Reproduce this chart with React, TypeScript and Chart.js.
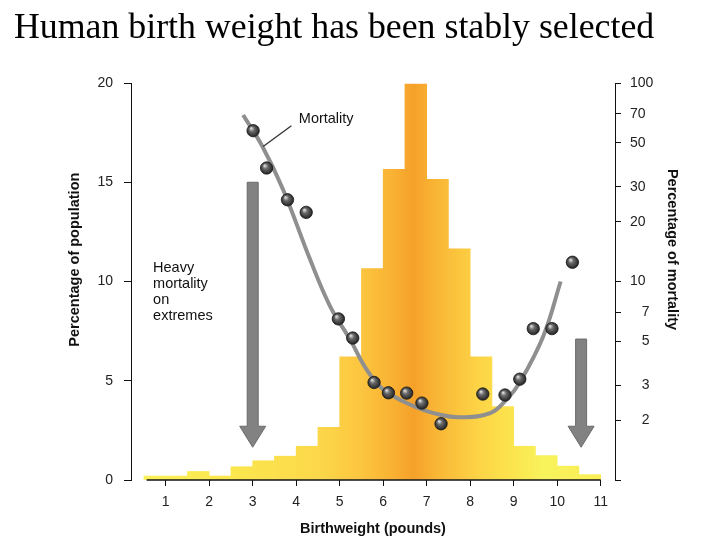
import React, { useEffect, useRef } from 'react';
import { Chart, registerables } from 'chart.js';

Chart.register(...registerables);

const TITLE = 'Human birth weight has been stably selected';
const X_TITLE = 'Birthweight (pounds)';
const Y_TITLE = 'Percentage of population';
const Y2_TITLE = 'Percentage of mortality';

// Histogram: half-pound bins (centres) and percentage of population
const binCenters = [0.75, 1.25, 1.75, 2.25, 2.75, 3.25, 3.75, 4.25, 4.75, 5.25, 5.75, 6.25, 6.75, 7.25, 7.75, 8.25, 8.75, 9.25, 9.75, 10.25, 10.75];
const populationPct = [0.2, 0.2, 0.43, 0.2, 0.67, 0.97, 1.2, 1.7, 2.65, 6.2, 10.65, 15.65, 19.95, 15.15, 11.65, 6.2, 3.7, 1.7, 1.23, 0.7, 0.27];

// Observed mortality (dots)
const mortalityX = [3.01, 3.32, 3.8, 4.23, 4.97, 5.3, 5.79, 6.12, 6.54, 6.89, 7.33, 8.29, 8.8, 9.14, 9.45, 9.88, 10.35];
const mortalityPct = [57.5, 37.3, 25.8, 22.3, 6.48, 5.19, 3.1, 2.75, 2.74, 2.44, 1.92, 2.71, 2.68, 3.22, 5.79, 5.79, 12.5];

// Fitted mortality curve
const curveX = [2.78, 3.23, 3.7, 4.32, 4.78, 5.24, 5.62, 6.0, 6.69, 7.31, 7.77, 8.46, 8.84, 9.14, 9.68, 10.08];
const curvePct = [69, 47.6, 29, 12.9, 7.5, 5.1, 3.6, 2.86, 2.36, 2.13, 2.07, 2.17, 2.55, 3.1, 5.3, 10.0];

// Axis ticks
const xTicks = [1, 2, 3, 4, 5, 6, 7, 8, 9, 10, 11];
const popTicks = [0, 5, 10, 15, 20];
const mortTicks = [1, 2, 3, 5, 7, 10, 20, 30, 50, 70, 100];
const mortTickLabels = ['', '   2', '   3', '   5', '   7', '10', '20', '30', '50', '70', '100'];

// Arrows (x in pounds, top/tip in % of population)
const arrowX = [3.0, 10.55];
const arrowTop = [15, 7.1];
const arrowTip = [1.65, 1.65];

// Annotations
const noteLines = ['Heavy', 'mortality', 'on', 'extremes'];
const noteAnchor = { x: 0.71, y: 10.68 };
const mortLabel = 'Mortality';
const mortLabelAnchor = { x: 4.06, y: 66 };
const mortLeader = [{ x: 3.89, y: 60.9 }, { x: 3.24, y: 47.9 }];
const xLineSpan = [0.56, 11];
// axis-title centres (in axis values): left title at 11.1 % population, right title at 14.5 % mortality
const yTitleAt = 11.1;
const y2TitleAt = 14.5;

const SANS = '"Liberation Sans", Arial, Helvetica, sans-serif';
const SERIF = '"Liberation Serif", "Times New Roman", serif';

const gradStops: [number, string][] = [
  [0.5, '#faf05a'],
  [2.5, '#fbe74e'],
  [4.5, '#fcd84a'],
  [5.5, '#fcc53f'],
  [6.2, '#f9b233'],
  [6.7, '#f5a129'],
  [7.2, '#f9b535'],
  [8.2, '#fdd446'],
  [9.0, '#fbe54e'],
  [9.7, '#f8f35c'],
  [11, '#faee55'],
];

const decorPlugin = {
  id: 'decor',
  afterDatasetsDraw(chart: any) {
    const { ctx, chartArea } = chart;
    const x = chart.scales.x;
    const y = chart.scales.y;
    const y2 = chart.scales.y2;
    ctx.save();
    // x axis line
    ctx.strokeStyle = '#111';
    ctx.lineWidth = 1.6;
    ctx.beginPath();
    ctx.moveTo(x.getPixelForValue(xLineSpan[0]), chartArea.bottom);
    ctx.lineTo(x.getPixelForValue(xLineSpan[1]), chartArea.bottom);
    ctx.stroke();

    // arrows
    arrowX.forEach((ax, i) => {
      const cx = x.getPixelForValue(ax);
      const top = y.getPixelForValue(arrowTop[i]);
      const tip = y.getPixelForValue(arrowTip[i]);
      const headH = 21;
      const headW = 13;
      const shaftW = 5.5;
      ctx.beginPath();
      ctx.moveTo(cx - shaftW, top);
      ctx.lineTo(cx + shaftW, top);
      ctx.lineTo(cx + shaftW, tip - headH);
      ctx.lineTo(cx + headW, tip - headH);
      ctx.lineTo(cx, tip);
      ctx.lineTo(cx - headW, tip - headH);
      ctx.lineTo(cx - shaftW, tip - headH);
      ctx.closePath();
      ctx.fillStyle = '#828282';
      ctx.fill();
      ctx.strokeStyle = '#6b6b6b';
      ctx.lineWidth = 1;
      ctx.stroke();
    });

    // note text
    ctx.fillStyle = '#111';
    ctx.font = `14.5px ${SANS}`;
    ctx.textAlign = 'left';
    ctx.textBaseline = 'middle';
    const nx = x.getPixelForValue(noteAnchor.x);
    const ny = y.getPixelForValue(noteAnchor.y);
    noteLines.forEach((t, i) => ctx.fillText(t, nx, ny + i * 16));

    // mortality label
    ctx.fillText(mortLabel, x.getPixelForValue(mortLabelAnchor.x), y2.getPixelForValue(mortLabelAnchor.y));
    ctx.strokeStyle = '#333';
    ctx.lineWidth = 1.3;
    ctx.beginPath();
    ctx.moveTo(x.getPixelForValue(mortLeader[0].x), y2.getPixelForValue(mortLeader[0].y));
    ctx.lineTo(x.getPixelForValue(mortLeader[1].x), y2.getPixelForValue(mortLeader[1].y));
    ctx.stroke();

    // y axis titles
    ctx.font = `bold 14.5px ${SANS}`;
    ctx.textAlign = 'center';
    ctx.textBaseline = 'middle';
    ctx.fillStyle = '#111';
    ctx.save();
    ctx.translate(y.left + 11, y.getPixelForValue(yTitleAt));
    ctx.rotate(-Math.PI / 2);
    ctx.fillText(Y_TITLE, 0, 0);
    ctx.restore();
    ctx.save();
    ctx.translate(y2.right - 11, y2.getPixelForValue(y2TitleAt));
    ctx.rotate(Math.PI / 2);
    ctx.fillText(Y2_TITLE, 0, 0);
    ctx.restore();
    ctx.restore();
  },
  afterDraw(chart: any) {
    const { ctx } = chart;
    ctx.save();
    ctx.fillStyle = '#000';
    ctx.font = `35.8px ${SERIF}`;
    ctx.textAlign = 'left';
    ctx.textBaseline = 'alphabetic';
    ctx.fillText(TITLE, 14, 38);
    ctx.restore();
  },
};

export default function App() {
  const canvasRef = useRef<HTMLCanvasElement | null>(null);

  useEffect(() => {
    const canvas = canvasRef.current;
    if (!canvas) return;

    const barColor = (c: any) => {
      const chart = c.chart;
      const xs = chart.scales && chart.scales.x;
      if (!chart.chartArea || !xs) return '#fcc53f';
      const x0 = xs.getPixelForValue(gradStops[0][0]);
      const x1 = xs.getPixelForValue(gradStops[gradStops.length - 1][0]);
      const g = chart.ctx.createLinearGradient(x0, 0, x1, 0);
      const span = gradStops[gradStops.length - 1][0] - gradStops[0][0];
      gradStops.forEach(([v, col]) => g.addColorStop((v - gradStops[0][0]) / span, col));
      return g;
    };

    const dotColor = (c: any) => {
      const chart = c.chart;
      const raw = c.raw;
      const xs = chart.scales && chart.scales.x;
      const ys = chart.scales && chart.scales.y2;
      if (!raw || !xs || !ys || !chart.chartArea) return '#444';
      const px = xs.getPixelForValue(raw.x);
      const py = ys.getPixelForValue(raw.y);
      const g = chart.ctx.createRadialGradient(px - 2, py - 2.5, 0.5, px, py, 6.5);
      g.addColorStop(0, '#d8d8d8');
      g.addColorStop(0.35, '#6a6a6a');
      g.addColorStop(1, '#1e1e1e');
      return g;
    };

    const tickFont = { family: SANS, size: 14 };
    const titleFont = { family: SANS, size: 14.5, weight: 'bold' as const };

    const chart = new Chart(canvas, {
      type: 'bar',
      data: {
        datasets: [
          {
            type: 'scatter' as const,
            data: mortalityX.map((v, i) => ({ x: v, y: mortalityPct[i] })),
            xAxisID: 'x',
            yAxisID: 'y2',
            pointRadius: 6.2,
            pointBorderWidth: 0.8,
            pointBorderColor: '#1a1a1a',
            pointBackgroundColor: dotColor,
            order: 0,
          } as any,
          {
            type: 'line' as const,
            data: curveX.map((v, i) => ({ x: v, y: curvePct[i] })),
            xAxisID: 'x',
            yAxisID: 'y2',
            borderColor: '#8f8f8f',
            borderWidth: 4,
            pointRadius: 0,
            tension: 0.4,
            fill: false,
            order: 1,
          } as any,
          {
            type: 'bar' as const,
            data: binCenters.map((v, i) => ({ x: v, y: populationPct[i] })),
            xAxisID: 'x',
            yAxisID: 'y',
            backgroundColor: barColor,
            borderWidth: 0,
            barPercentage: 1,
            categoryPercentage: 1,
            order: 2,
          } as any,
        ],
      },
      options: {
        responsive: false,
        animation: false,
        events: [],
        layout: { padding: { left: 64, right: 37, top: 83, bottom: 0 } },
        plugins: {
          legend: { display: false },
          tooltip: { enabled: false },
          title: { display: false },
        },
        scales: {
          x: {
            type: 'linear',
            position: 'bottom',
            min: 0.2023,
            max: 11.329,
            offset: false,
            afterFit: (s: any) => {
              s.height = 60;
            },
            afterBuildTicks: (s: any) => {
              s.ticks = xTicks.map((v) => ({ value: v }));
            },
            grid: {
              offset: false,
              drawOnChartArea: false,
              drawTicks: true,
              tickLength: 6,
              color: '#111',
              tickColor: '#111',
            },
            border: { display: false },
            ticks: {
              autoSkip: false,
              maxRotation: 0,
              padding: 8,
              color: '#222',
              font: tickFont,
              callback: (v: any) => String(v),
            },
            title: {
              display: true,
              text: X_TITLE,
              color: '#111',
              font: titleFont,
              padding: { top: 0, bottom: 2 },
            },
          },
          y: {
            type: 'linear',
            position: 'left',
            min: 0,
            max: 20,
            afterFit: (s: any) => {
              s.width = 67;
            },
            afterBuildTicks: (s: any) => {
              s.ticks = popTicks.map((v) => ({ value: v }));
            },
            grid: {
              drawOnChartArea: false,
              drawTicks: true,
              tickLength: 7,
              color: '#111',
              tickColor: '#111',
            },
            border: { display: true, color: '#111', width: 1 },
            ticks: {
              autoSkip: false,
              padding: 11,
              color: '#222',
              font: tickFont,
              callback: (v: any) => String(v),
            },
            title: { display: false },
          },
          y2: {
            type: 'logarithmic',
            position: 'right',
            min: 1,
            max: 100,
            afterFit: (s: any) => {
              s.width = 68;
            },
            afterBuildTicks: (s: any) => {
              s.ticks = mortTicks.map((v) => ({ value: v }));
            },
            grid: {
              drawOnChartArea: false,
              drawTicks: true,
              tickLength: 6,
              color: '#111',
              tickColor: '#111',
            },
            border: { display: true, color: '#111', width: 1 },
            ticks: {
              autoSkip: false,
              padding: 9,
              color: '#222',
              font: tickFont,
              callback: (_v: any, i: number) => mortTickLabels[i],
            },
            title: { display: false },
          },
        },
      } as any,
      plugins: [decorPlugin],
    });

    return () => {
      chart.destroy();
    };
  }, []);

  return (
    <div style={{ position: 'absolute', left: 0, top: 0, width: 720, height: 540, background: '#fff' }}>
      <canvas ref={canvasRef} width={720} height={540} style={{ display: 'block' }} />
    </div>
  );
}
